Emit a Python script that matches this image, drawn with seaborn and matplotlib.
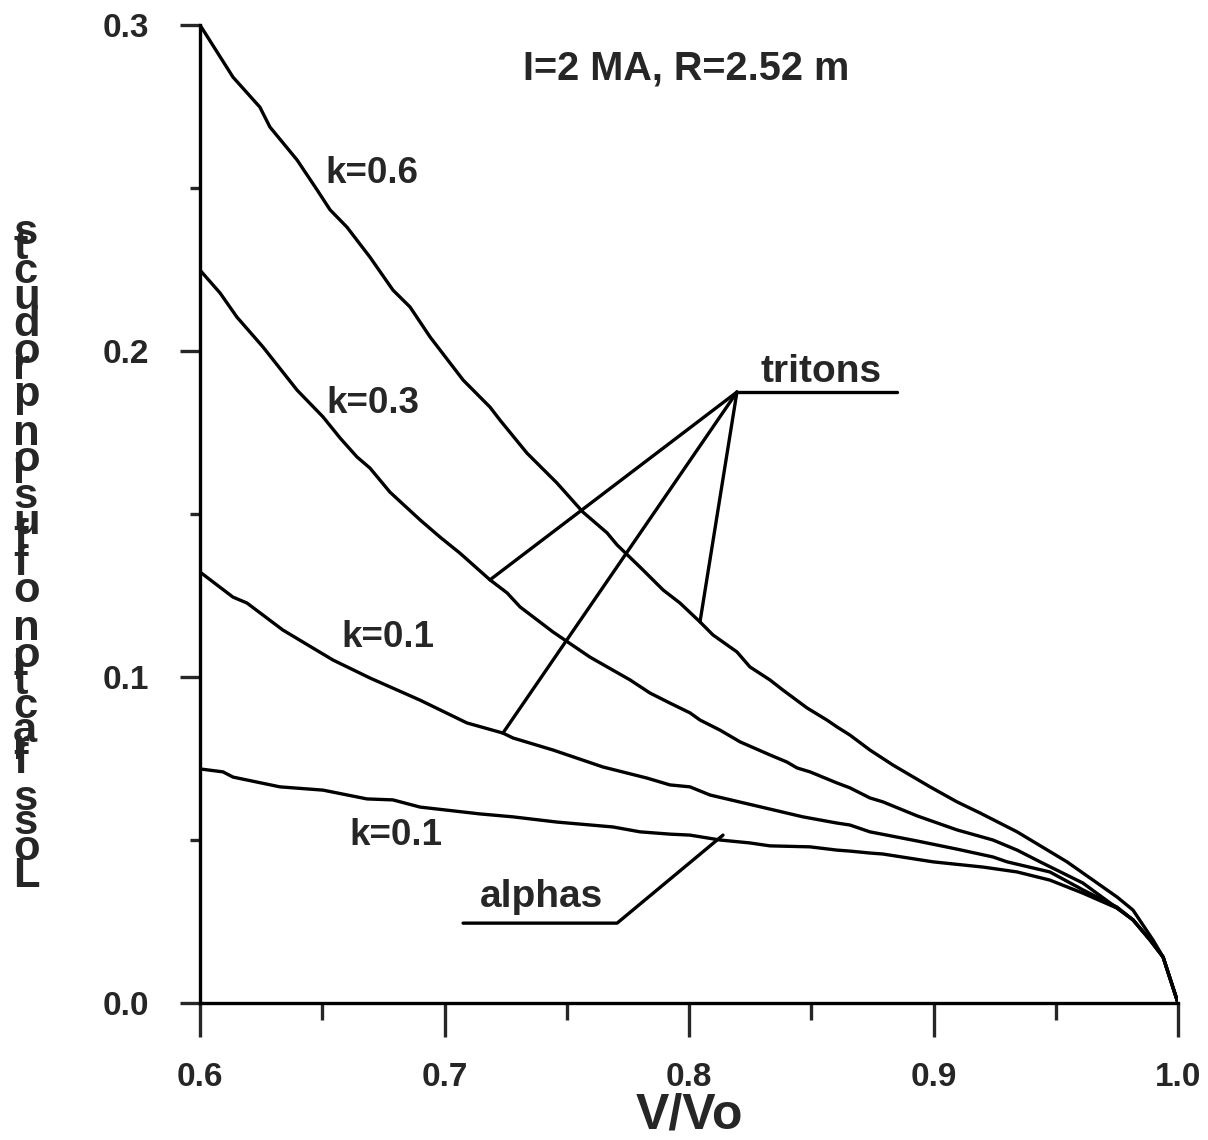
import numpy as np
import pandas as pd
import matplotlib
matplotlib.use('Agg')
from matplotlib import pyplot as plt
from matplotlib.ticker import FormatStrFormatter
import seaborn as sns

# tritons, k=0.6
x_t06 = [0.600, 0.6135, 0.6245, 0.6286, 0.6397, 0.6479, 0.6532, 0.6601, 0.6695, 0.6789,
         0.6859, 0.6941, 0.7076, 0.7186, 0.7227, 0.7337, 0.7460, 0.7566, 0.7665, 0.7706,
         0.7800, 0.7894, 0.7963, 0.8045, 0.8098, 0.8196, 0.8249, 0.8331, 0.8384, 0.8483,
         0.8564, 0.8605, 0.8658, 0.8740, 0.8834, 0.8986, 0.9096, 0.9190, 0.9342, 0.9546,
         0.9751, 0.9816, 0.9898, 0.9939, 1.000]
y_t06 = [0.300, 0.2840, 0.2748, 0.2687, 0.2586, 0.2494, 0.2433, 0.2380, 0.2288, 0.2187,
         0.2135, 0.2043, 0.1911, 0.1828, 0.1788, 0.1687, 0.1595, 0.1506, 0.1442, 0.1405,
         0.1337, 0.1267, 0.1227, 0.1169, 0.1129, 0.1077, 0.1031, 0.0991, 0.0960, 0.0905,
         0.0868, 0.0847, 0.0822, 0.0776, 0.0730, 0.0663, 0.0617, 0.0583, 0.0525, 0.0433,
         0.0325, 0.0285, 0.0193, 0.0141, 0.000]

# tritons, k=0.3
x_t03 = [0.600, 0.6082, 0.6151, 0.6258, 0.6397, 0.6503, 0.6573, 0.6642, 0.6695, 0.6777,
         0.6900, 0.6982, 0.7063, 0.7186, 0.7256, 0.7309, 0.7444, 0.7595, 0.7759, 0.7840,
         0.7922, 0.8004, 0.8045, 0.8127, 0.8209, 0.8331, 0.8401, 0.8442, 0.8495, 0.8605,
         0.8658, 0.8740, 0.8793, 0.8933, 0.9096, 0.9243, 0.9342, 0.9436, 0.9611, 0.9751,
         0.9816, 0.9886, 0.9939, 1.000]
y_t03 = [0.2248, 0.2178, 0.2104, 0.2012, 0.1880, 0.1798, 0.1733, 0.1675, 0.1641, 0.1567,
         0.1482, 0.1429, 0.1380, 0.1298, 0.1258, 0.1215, 0.1138, 0.1061, 0.0991, 0.0951,
         0.0920, 0.0890, 0.0868, 0.0837, 0.0801, 0.0761, 0.0739, 0.0721, 0.0709, 0.0675,
         0.0660, 0.0629, 0.0617, 0.0574, 0.0531, 0.0500, 0.0469, 0.0433, 0.0368, 0.0291,
         0.0255, 0.0193, 0.0141, 0.000]

# tritons, k=0.1
x_t01 = [0.600, 0.6135, 0.6192, 0.6339, 0.6544, 0.6695, 0.6900, 0.7092, 0.7239, 0.7280,
         0.7444, 0.7648, 0.7828, 0.7922, 0.8004, 0.8086, 0.8262, 0.8466, 0.8605, 0.8658,
         0.8740, 0.8933, 0.9096, 0.9243, 0.9301, 0.9476, 0.9611, 0.9751, 0.9816, 0.9886,
         0.9939, 1.000]
y_t01 = [0.1322, 0.1245, 0.1227, 0.1144, 0.1052, 0.0997, 0.0929, 0.0859, 0.0828, 0.0813,
         0.0776, 0.0724, 0.0690, 0.0669, 0.0663, 0.0638, 0.0607, 0.0571, 0.0552, 0.0546,
         0.0525, 0.0497, 0.0472, 0.0448, 0.0433, 0.0402, 0.0347, 0.0294, 0.0255, 0.0193,
         0.0141, 0.000]

# alphas, k=0.1
x_a01 = [0.600, 0.6094, 0.6135, 0.6327, 0.6503, 0.6683, 0.6789, 0.6900, 0.7145, 0.7280,
         0.7460, 0.7689, 0.7800, 0.7922, 0.8004, 0.8127, 0.8249, 0.8331, 0.8495, 0.8605,
         0.8658, 0.8740, 0.8793, 0.8998, 0.9202, 0.9342, 0.9476, 0.9611, 0.9751, 0.9816,
         0.9886, 0.9939, 1.000]
y_a01 = [0.0718, 0.0709, 0.0693, 0.0663, 0.0653, 0.0626, 0.0623, 0.0601, 0.0580, 0.0571,
         0.0555, 0.0540, 0.0525, 0.0518, 0.0515, 0.0500, 0.0491, 0.0482, 0.0479, 0.0469,
         0.0466, 0.0460, 0.0457, 0.0433, 0.0417, 0.0402, 0.0377, 0.0337, 0.0291, 0.0255,
         0.0193, 0.0141, 0.000]

# leader lines for the labels
tritons_hub = (0.8196, 0.1874)
tritons_bar_end = 0.8851
tritons_targets = [(0.7186, 0.1298), (0.7239, 0.0828), (0.8045, 0.1169)]
alphas_line_x = [0.7076, 0.7706, 0.8139]
alphas_line_y = [0.0245, 0.0245, 0.0515]

x_ticks = [0.6, 0.7, 0.8, 0.9, 1.0]
x_minor = [0.65, 0.75, 0.85, 0.95]
y_ticks = [0.0, 0.1, 0.2, 0.3]
y_minor = [0.05, 0.15, 0.25]

ylabel_text = 'Loss fraction of fusion products'
# Arial bold advance widths (per 1000 em), the y label glyphs are stacked by them
adv = {' ': 278, 'L': 611, 'o': 611, 's': 556, 'f': 333, 'r': 389, 'a': 556, 'c': 556,
       't': 333, 'i': 278, 'n': 611, 'u': 611, 'p': 611, 'd': 611}

sns.set_style('white')
plt.rcParams['font.family'] = ['Liberation Sans', 'DejaVu Sans']
plt.rcParams['font.weight'] = 'bold'

LW = 2.4
W, H = 1208, 1140
fig = plt.figure(figsize=(W / 100, H / 100), dpi=100)
ax = fig.add_axes([200 / W, 1 - 1003 / H, 978 / W, 978 / H])

frames = []
for name, xs, ys in [('t06', x_t06, y_t06), ('t03', x_t03, y_t03),
                     ('t01', x_t01, y_t01), ('a01', x_a01, y_a01)]:
    frames.append(pd.DataFrame({'v': xs, 'loss': ys, 'curve': name}))
df = pd.concat(frames, ignore_index=True)

sns.lineplot(data=df, x='v', y='loss', units='curve', estimator=None, sort=False,
             color='black', lw=LW, ax=ax, legend=False)

for tx, ty in tritons_targets:
    ax.plot([tritons_hub[0], tx], [tritons_hub[1], ty], color='black', lw=LW)
ax.plot([tritons_hub[0], tritons_bar_end], [tritons_hub[1], tritons_hub[1]], color='black', lw=LW)
ax.plot(alphas_line_x, alphas_line_y, color='black', lw=LW)

ax.set_xlim(0.6, 1.0)
ax.set_ylim(0.0, 0.3)
for s in ['top', 'right']:
    ax.spines[s].set_visible(False)
for s in ['left', 'bottom']:
    ax.spines[s].set_linewidth(2.4)
    ax.spines[s].set_color('black')

ax.set_xticks(x_ticks)
ax.set_xticks(x_minor, minor=True)
ax.set_yticks(y_ticks)
ax.set_yticks(y_minor, minor=True)
ax.xaxis.set_major_formatter(FormatStrFormatter('%.1f'))
ax.yaxis.set_major_formatter(FormatStrFormatter('%.1f'))
ax.tick_params(axis='x', which='major', length=24.5, width=2.4, pad=18, labelsize=24, direction='out', bottom=True)
ax.tick_params(axis='x', which='minor', length=12.2, width=2.4, direction='out', bottom=True)
ax.tick_params(axis='y', which='major', length=14.4, width=2.4, pad=22, labelsize=24, direction='out', left=True)
ax.tick_params(axis='y', which='minor', length=7.2, width=2.4, direction='out', left=True)
for lab in ax.get_xticklabels() + ax.get_yticklabels():
    lab.set_fontweight('bold')

ax.set_xlabel('V/Vo', fontsize=36, fontweight='bold')
ax.xaxis.set_label_coords(0.5, -(1092 - 1003) / 978)
ax.set_ylabel('')

ax.text(0.799, 0.2868, 'I=2 MA, R=2.52 m', fontsize=28.5, fontweight='bold', ha='center', va='center')
ax.text(0.6703, 0.2543, 'k=0.6', fontsize=26.5, fontweight='bold', ha='center', va='center')
ax.text(0.6708, 0.1840, 'k=0.3', fontsize=26.5, fontweight='bold', ha='center', va='center')
ax.text(0.6769, 0.1120, 'k=0.1', fontsize=26.5, fontweight='bold', ha='center', va='center')
ax.text(0.6801, 0.0515, 'k=0.1', fontsize=26.5, fontweight='bold', ha='center', va='center')
ax.text(0.7395, 0.0294, 'alphas', fontsize=28, fontweight='bold', ha='center', va='baseline')
ax.text(0.854, 0.1905, 'tritons', fontsize=28, fontweight='bold', ha='center', va='baseline')

# y label: upright glyphs stacked upward by their advance widths
em_px = 43.5
y_base = 887.0
for ch in ylabel_text:
    if ch != ' ':
        fig.text(13 / W, 1 - y_base / H, ch, fontsize=em_px * 0.72, fontweight='bold',
                 ha='left', va='baseline')
    y_base -= adv[ch] * em_px / 1000

fig.savefig('out.png', dpi=100, facecolor='white')
